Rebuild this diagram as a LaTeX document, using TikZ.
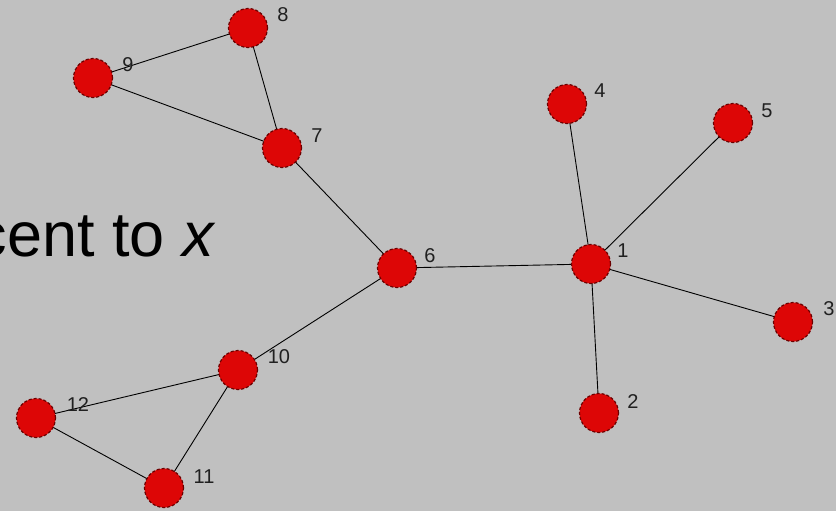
\documentclass[tikz,border=0pt]{standalone}
\usepackage{fontspec}
\setmainfont{Liberation Sans}
\begin{document}
\begin{tikzpicture}[x=1pt,y=-1pt,
  vtx/.style={circle,fill=nodered,draw=nodedark,line width=1.2pt,densely dashed,minimum size=39pt,inner sep=0pt},
  lbl/.style={font=\fontsize{20}{20}\selectfont,text=labelgray,inner sep=0pt,anchor=center},
  edge/.style={draw=black,line width=0.9pt}]
\definecolor{bg}{HTML}{C0C0C0}
\definecolor{nodered}{HTML}{DD0606}
\definecolor{nodedark}{HTML}{6A0000}
\definecolor{labelgray}{HTML}{202020}
\fill[bg] (0,0) rectangle (836,511);
\useasboundingbox (0,0) rectangle (836,511);
\begin{scope}
\clip (0,0) rectangle (836,511);
\node[anchor=base east,inner sep=0pt,font=\fontsize{63}{63}\selectfont] (title) at (216,256) {cent to \textit{x}};
\end{scope}
% vertex positions
\coordinate (p1) at (591,264);
\coordinate (p2) at (599,413);
\coordinate (p3) at (793,322);
\coordinate (p4) at (567,104);
\coordinate (p5) at (733,123);
\coordinate (p6) at (397,268);
\coordinate (p7) at (282,148);
\coordinate (p8) at (248,28);
\coordinate (p9) at (93,78);
\coordinate (p10) at (238,370);
\coordinate (p11) at (164,488);
\coordinate (p12) at (36,418);
% edges
\draw[edge] (p8) -- (p9);
\draw[edge] (p8) -- (p7);
\draw[edge] (p9) -- (p7);
\draw[edge] (p7) -- (p6);
\draw[edge] (p6) -- (p1);
\draw[edge] (p6) -- (p10);
\draw[edge] (p1) -- (p4);
\draw[edge] (p1) -- (p5);
\draw[edge] (p1) -- (p3);
\draw[edge] (p1) -- (p2);
\draw[edge] (p10) -- (p12);
\draw[edge] (p10) -- (p11);
\draw[edge] (p12) -- (p11);
% vertices
\foreach \i in {1,...,12} { \node[vtx] (v\i) at (p\i) {}; }
% labels
\node[lbl] (l1) at (623,251) {1};
\node[lbl] (l2) at (633,402) {2};
\node[lbl] (l3) at (829,309) {3};
\node[lbl] (l4) at (600,91) {4};
\node[lbl] (l5) at (767,111) {5};
\node[lbl] (l6) at (430,256) {6};
\node[lbl] (l7) at (317,136) {7};
\node[lbl] (l8) at (283,15) {8};
\node[lbl] (l9) at (128,65) {9};
\node[lbl] (l10) at (279,357) {10};
\node[lbl] (l11) at (204,477) {11};
\node[lbl] (l12) at (78,405) {12};
\end{tikzpicture}
\end{document}
